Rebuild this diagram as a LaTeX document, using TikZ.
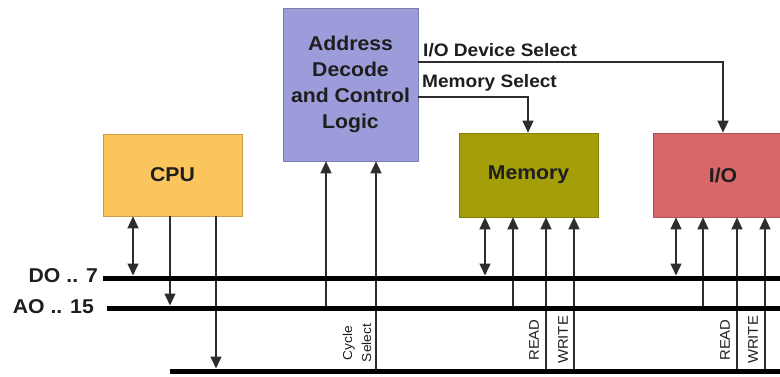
\documentclass[tikz,border=0pt]{standalone}
\usepackage{fontspec}
\setmainfont[FakeStretch=1.06]{Liberation Sans}
\usetikzlibrary{arrows.meta}

\definecolor{addrfill}{RGB}{156,156,218}
\definecolor{cpufill}{RGB}{250,197,92}
\definecolor{memfill}{RGB}{164,158,8}
\definecolor{iofill}{RGB}{216,104,104}
\definecolor{wirecol}{RGB}{45,45,45}
\definecolor{inkcol}{RGB}{30,30,30}

\begin{document}
\begin{tikzpicture}[x=1pt,y=-1pt,
  block/.style={draw=#1!80!black, fill=#1, line width=0.7pt, inner sep=0pt,
    text=inkcol, font=\bfseries\fontsize{20}{26}\selectfont, align=center},
  bus/.style={line width=5pt, draw=black},
  wire/.style={draw=wirecol, line width=1.4pt},
  tip/.style={-{Triangle[length=12pt,width=11pt]}},
  both/.style={{Triangle[length=12pt,width=11pt]}-{Triangle[length=12pt,width=11pt]}},
  buslabel/.style={text=inkcol, font=\bfseries\fontsize{20}{20}\selectfont, anchor=base east, inner sep=0pt},
  sellabel/.style={text=inkcol, font=\bfseries\fontsize{18}{18}\selectfont, anchor=base west, inner sep=0pt},
  ctrllabel/.style={text=inkcol, rotate=90, inner sep=0pt, align=center,
    font=\fontsize{14}{19}\selectfont}
]
\useasboundingbox (0,0) rectangle (780,377);
\clip (0,0) rectangle (780,377);

% functional blocks
\node[block=addrfill, minimum width=135pt, minimum height=153pt] (adc) at (350.5,84.5)
  {Address\\Decode\\and Control\\Logic};
\node[block=cpufill, minimum width=139pt, minimum height=82pt] (cpu) at (172.5,175) {CPU};
\node[block=memfill, minimum width=139pt, minimum height=84pt] (mem) at (528.5,175) {Memory};
\node[block=iofill, minimum width=140pt, minimum height=84pt] (io) at (723,175) {I/O};

% bus ends
\coordinate (dl) at (103,278);
\coordinate (dr) at (782,278);
\coordinate (al) at (107,308);
\coordinate (ar) at (782,308);
\coordinate (cl) at (170,371);
\coordinate (cr) at (782,371);

% bus labels
\node[buslabel] (dlab) at (98,283) {DO .. 7};
\node[buslabel] (alab) at (94,313) {AO .. 15};

% select lines from the decoder
\draw[wire,tip] (adc.east |- 0,62) -| (723,0 |- io.north);
\draw[wire,tip] (adc.east |- 0,97) -| (528,0 |- mem.north);
\node[sellabel] (iosel) at (423,57) {I/O Device Select};
\node[sellabel] (memsel) at (422,88) {Memory Select};

% CPU connections
\draw[wire,both,shorten >=2.5pt] (133,0 |- cpu.south) -- (133,0 |- dl);
\draw[wire,tip,shorten >=2.5pt] (170,0 |- cpu.south) -- (170,0 |- al);
\draw[wire,tip,shorten >=2.5pt] (216,0 |- cpu.south) -- (216,0 |- cl);

% decoder inputs
\draw[wire,tip] (326,0 |- al) -- (326,0 |- adc.south);
\draw[wire,tip] (376,0 |- cl) -- (376,0 |- adc.south);
\node[ctrllabel, font=\fontsize{13}{19}\selectfont] (cyc) at (357,343) {Cycle\\Select};

% memory connections
\draw[wire,both,shorten >=2.5pt] (485,0 |- mem.south) -- (485,0 |- dl);
\draw[wire,tip] (513,0 |- al) -- (513,0 |- mem.south);
\draw[wire,tip] (546,0 |- cl) -- (546,0 |- mem.south);
\draw[wire,tip] (574,0 |- cl) -- (574,0 |- mem.south);
\node[ctrllabel] (mrd) at (534,340) {READ};
\node[ctrllabel] (mwr) at (563,340) {WRITE};

% I/O connections
\draw[wire,both,shorten >=2.5pt] (676,0 |- io.south) -- (676,0 |- dl);
\draw[wire,tip] (703,0 |- al) -- (703,0 |- io.south);
\draw[wire,tip] (737,0 |- cl) -- (737,0 |- io.south);
\draw[wire,tip] (765,0 |- cl) -- (765,0 |- io.south);
\node[ctrllabel] (ird) at (725,340) {READ};
\node[ctrllabel] (iwr) at (753,340) {WRITE};

% buses
\draw[bus] (dl) -- (dr);
\draw[bus] (al) -- (ar);
\draw[bus] (cl) -- (cr);
\end{tikzpicture}
\end{document}
